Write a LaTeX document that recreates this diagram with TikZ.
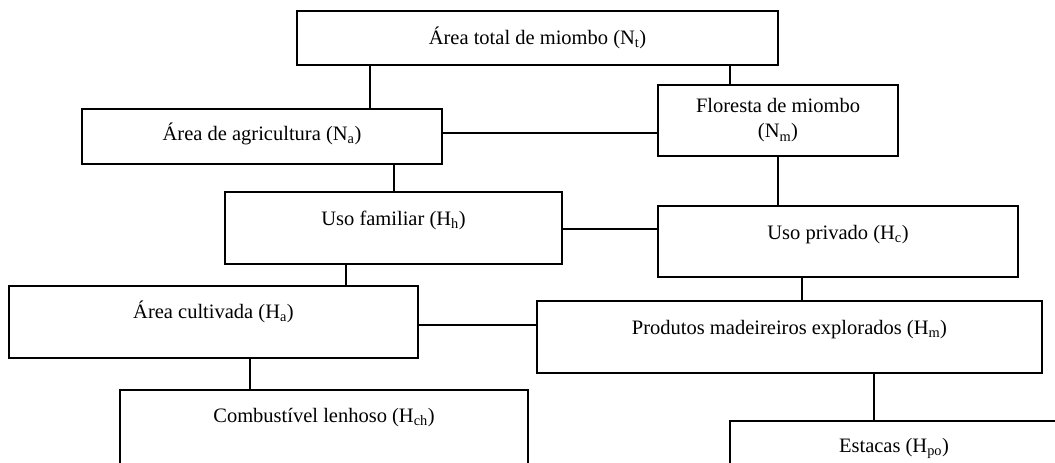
\documentclass[tikz,border=0pt]{standalone}
\usepackage{fontspec}
\setmainfont{Liberation Serif}
\tikzset{
  box/.style={draw, line width=2pt, rectangle, inner sep=0pt, outer sep=0pt, anchor=north west,
    font=\fontsize{20.5}{25}\selectfont, align=center},
  link/.style={line width=1.8pt}
}
\begin{document}
\begin{tikzpicture}[x=1pt,y=-1pt]
\useasboundingbox (0,0) rectangle (1055,463);
\clip (0,0) rectangle (1055,463);
\fill[white] (0,0) rectangle (1055,463);
% boxes
\node[box, minimum width=481pt, text height=33pt, text depth=21pt] (Nt) at (297,11) {Área total de miombo (N\textsubscript{t})};
\node[box, minimum width=360pt, text height=31pt, text depth=24pt] (Na) at (82,109) {Área de agricultura (N\textsubscript{a})};
\node[box, minimum width=240pt, minimum height=71pt] (Nm) at (658,85) {Floresta de miombo\\(N\textsubscript{m})};
\node[box, minimum width=337pt, text height=33pt, text depth=39pt] (Hh) at (225,192) {Uso familiar (H\textsubscript{h})};
\node[box, minimum width=360pt, text height=33pt, text depth=38pt] (Hc) at (658,206) {Uso privado (H\textsubscript{c})};
\node[box, minimum width=409pt, text height=32pt, text depth=40pt] (Ha) at (9,286) {Área cultivada (H\textsubscript{a})};
\node[box, minimum width=505pt, text height=33pt, text depth=39pt] (Hm) at (537,301) {Produtos madeireiros explorados (H\textsubscript{m})};
\node[box, minimum width=408pt, text height=32pt, text depth=58pt] (Hch) at (120,390) {Combustível lenhoso (H\textsubscript{ch})};
\node[box, minimum width=328pt, text height=31pt, text depth=38pt] (Hpo) at (730,421) {Estacas (H\textsubscript{po})};
% connectors
\path ([xshift=73pt]Nt.south west) coordinate (c1);
\draw[link] (c1) -- (c1 |- Na.north);
\path ([xshift=433pt]Nt.south west) coordinate (c2);
\draw[link] (c2) -- (c2 |- Nm.north);
\path ([yshift=-24pt]Na.north east) coordinate (c3);
\draw[link] (c3) -- (c3 -| Nm.west);
\path ([xshift=312pt]Na.south west) coordinate (c4);
\draw[link] (c4) -- (c4 |- Hh.north);
\path ([xshift=120pt]Nm.south west) coordinate (c5);
\draw[link] (c5) -- (c5 |- Hc.north);
\path ([yshift=-37pt]Hh.north east) coordinate (c6);
\draw[link] (c6) -- (c6 -| Hc.west);
\path ([xshift=121pt]Hh.south west) coordinate (c7);
\draw[link] (c7) -- (c7 |- Ha.north);
\path ([xshift=144pt]Hc.south west) coordinate (c8);
\draw[link] (c8) -- (c8 |- Hm.north);
\path ([yshift=-39pt]Ha.north east) coordinate (c9);
\draw[link] (c9) -- (c9 -| Hm.west);
\path ([xshift=241pt]Ha.south west) coordinate (c10);
\draw[link] (c10) -- (c10 |- Hch.north);
\path ([xshift=337pt]Hm.south west) coordinate (c11);
\draw[link] (c11) -- (c11 |- Hpo.north);
\end{tikzpicture}
\end{document}
